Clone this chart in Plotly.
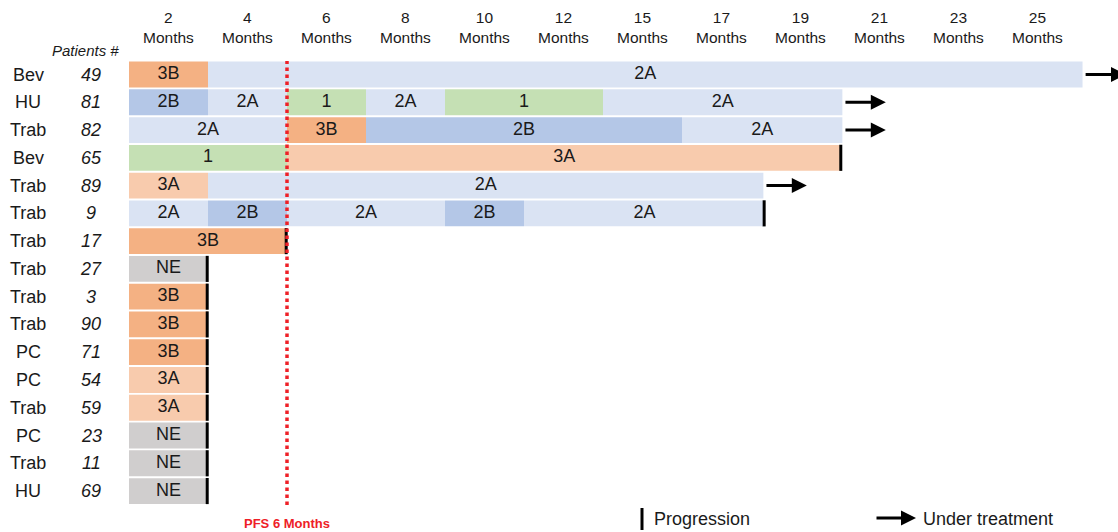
import plotly.graph_objects as go

# Patients, top to bottom
drugs = ["Bev", "HU", "Trab", "Bev", "Trab", "Trab", "Trab", "Trab",
         "Trab", "Trab", "PC", "PC", "Trab", "PC", "Trab", "HU"]
patients = ["49", "81", "82", "65", "89", "9", "17", "27",
            "3", "90", "71", "54", "59", "23", "11", "69"]

# Treatment segments per patient: (stage, start, end) in 2-month column units
segments = [
    [("3B", 0, 1), ("2A", 1, 12.07)],
    [("2B", 0, 1), ("2A", 1, 2), ("1", 2, 3), ("2A", 3, 4), ("1", 4, 6), ("2A", 6, 9.03)],
    [("2A", 0, 2), ("3B", 2, 3), ("2B", 3, 7), ("2A", 7, 9.03)],
    [("1", 0, 2), ("3A", 2, 9.02)],
    [("3A", 0, 1), ("2A", 1, 8.03)],
    [("2A", 0, 1), ("2B", 1, 2), ("2A", 2, 4), ("2B", 4, 5), ("2A", 5, 8.05)],
    [("3B", 0, 2)],
    [("NE", 0, 1)],
    [("3B", 0, 1)],
    [("3B", 0, 1)],
    [("3B", 0, 1)],
    [("3A", 0, 1)],
    [("3A", 0, 1)],
    [("NE", 0, 1)],
    [("NE", 0, 1)],
    [("NE", 0, 1)],
]

# Outcome at end of follow-up: "arrow" = under treatment, "prog" = progression
outcome = ["arrow", "arrow", "arrow", "prog", "arrow", "prog", "prog", "prog",
           "prog", "prog", "prog", "prog", "prog", "prog", "prog", "prog"]

month_labels = ["2", "4", "6", "8", "10", "12", "15", "17", "19", "21", "23", "25"]
pfs_col = 2  # 6-month PFS boundary

stage_colors = {
    "3B": "#F4B183",
    "2A": "#DAE3F3",
    "2B": "#B4C7E7",
    "1": "#C5E0B4",
    "3A": "#F8CBAD",
    "NE": "#D0CECE",
}

FONT = "Arial, Liberation Sans, sans-serif"
TXT = "#1a1a1a"
W, H = 1118, 532
COL_PX = 79.0
X0_PX = 129.0
ROW0_PX = 74.5
ROW_PX = 27.77

x_range = [-X0_PX / COL_PX, (W - X0_PX) / COL_PX]
y_range = [(H - ROW0_PX) / ROW_PX, -ROW0_PX / ROW_PX]


def label(x, y, text, size, xref="paper", yref="paper", xanchor="center",
          color=TXT):
    return dict(x=x, y=y, xref=xref, yref=yref, text=text, showarrow=False,
                xanchor=xanchor, yanchor="middle",
                font=dict(family=FONT, size=size, color=color))


fig = go.Figure()

# Bars grouped by stage
for stage, color in stage_colors.items():
    ys, bases, lens = [], [], []
    for i, segs in enumerate(segments):
        for s, a, b in segs:
            if s == stage:
                ys.append(i)
                bases.append(a)
                lens.append(b - a)
    if ys:
        fig.add_trace(go.Bar(
            y=ys, x=lens, base=bases, orientation="h",
            marker=dict(color=color, line=dict(width=0)),
            width=0.93, showlegend=False, hoverinfo="skip",
        ))

# Stage labels centred in each segment
tx, ty, tt = [], [], []
for i, segs in enumerate(segments):
    for s, a, b in segs:
        tx.append((a + b) / 2)
        ty.append(i)
        tt.append(s)
fig.add_trace(go.Scatter(
    x=tx, y=ty, text=tt, mode="text",
    textfont=dict(family=FONT, size=18, color=TXT),
    showlegend=False, hoverinfo="skip",
))

shapes = []
annotations = []

# Progression ticks and under-treatment arrows
for i, segs in enumerate(segments):
    end = segs[-1][2]
    if outcome[i] == "prog":
        shapes.append(dict(type="line", xref="x", yref="y",
                           x0=end - 0.01, x1=end - 0.01, y0=i - 0.47, y1=i + 0.47,
                           line=dict(color="black", width=3)))
    else:
        annotations.append(dict(
            x=end + 0.55, y=i, ax=end + 0.02, ay=i,
            xref="x", yref="y", axref="x", ayref="y",
            text="", showarrow=True, arrowhead=2, arrowsize=1.0,
            arrowwidth=3, arrowcolor="black",
        ))

# PFS 6 months dotted line
shapes.append(dict(type="line", xref="x", yref="paper",
                   x0=pfs_col, x1=pfs_col, y0=1 - 505 / H, y1=1 - 61 / H,
                   line=dict(color="#EE2027", width=3.5, dash="dot")))
annotations.append(label(pfs_col, 1 - 523 / H, "<b>PFS 6 Months</b>", 13,
                         xref="x", color="#EE2027"))

# Column headers
for k, lab in enumerate(month_labels):
    annotations.append(label(k + 0.5, 1 - 28 / H, f"{lab}<br>Months", 15.5,
                             xref="x"))

# Row labels
annotations.append(label(85 / W, 1 - 51 / H, "<i>Patients #</i>", 15))
for i, (d, p) in enumerate(zip(drugs, patients)):
    annotations.append(label(28 / W, i, d, 18, yref="y"))
    annotations.append(label(91 / W, i, f"<i>{p}</i>", 18, yref="y"))

# Key
shapes.append(dict(type="line", xref="paper", yref="paper",
                   x0=642 / W, x1=642 / W, y0=1 - 530 / H, y1=1 - 508 / H,
                   line=dict(color="black", width=3)))
annotations.append(label(652 / W, 1 - 519 / H, "Progression", 18,
                         xanchor="left"))
annotations.append(dict(x=916 / W, y=1 - 518 / H, ax=-41, ay=0,
                        xref="paper", yref="paper",
                        text="", showarrow=True, arrowhead=2, arrowsize=1.0,
                        arrowwidth=3, arrowcolor="black"))
annotations.append(label(921 / W, 1 - 519 / H, "Under treatment", 18,
                         xanchor="left"))

fig.update_layout(
    width=W, height=H,
    margin=dict(l=0, r=0, t=0, b=0),
    paper_bgcolor="white", plot_bgcolor="white",
    barmode="overlay",
    xaxis=dict(range=x_range, visible=False, fixedrange=True),
    yaxis=dict(range=y_range, visible=False, fixedrange=True),
    shapes=shapes, annotations=annotations,
    font=dict(family=FONT),
)

fig.write_html("out.html")
